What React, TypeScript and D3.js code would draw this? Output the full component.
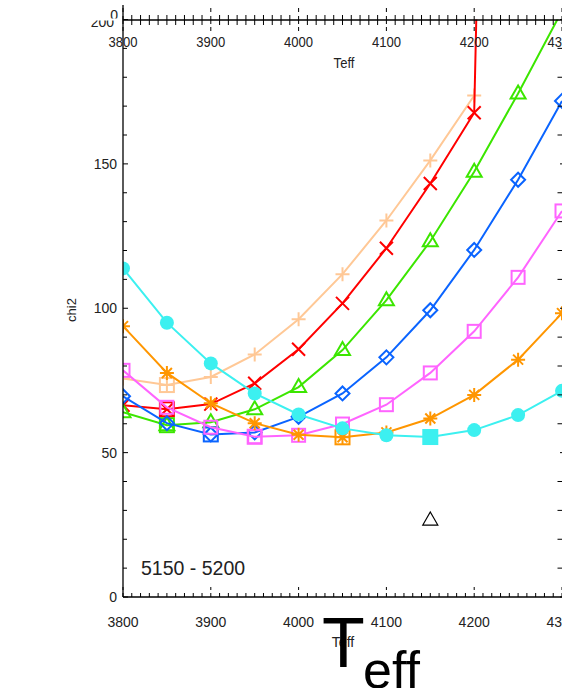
import React from "react";
import * as d3 from "d3";

// Effective temperature grid (K)
const teff = [3800, 3850, 3900, 3950, 4000, 4050, 4100, 4150, 4200, 4250, 4300];

// chi2 curves, one per fitted model, sampled on the teff grid
const chiPeach = [75.7, 73.4, 76.2, 84.0, 96.2, 111.8, 130.4, 151.2, 173.7];
const chiRed = [66.4, 65.0, 66.8, 74.0, 85.8, 101.7, 120.8, 143.2, 167.7, 850];
const chiGreen = [64.0, 59.5, 60.5, 65.0, 72.7, 85.5, 102.8, 123.2, 147.3, 174.4, 203];
const chiBlue = [69.5, 60.2, 56.3, 57.0, 62.4, 70.5, 83.0, 99.3, 120.2, 144.5, 171.8];
const chiPink = [78.5, 65.7, 58.8, 55.5, 56.0, 59.9, 66.6, 77.6, 92.0, 110.7, 133.7];
const chiOrange = [93.8, 77.6, 67.1, 60.2, 56.2, 55.3, 57.0, 61.8, 70.0, 82.2, 98.3];
const chiCyan = [113.8, 95.0, 80.9, 70.5, 63.2, 58.4, 56.0, 55.4, 57.8, 63.0, 71.4];

// Single reference point
const refTeff = [4150];
const refChi = [27];

const xTickValues = [3800, 3900, 4000, 4100, 4200, 4300];
const yTickValues = [0, 50, 100, 150, 200];
const rangeLabel = "5150 - 5200";

type Shape = "plus" | "cross" | "triangle" | "diamond" | "square" | "asterisk" | "circle";

const seriesList: { values: number[]; color: string; shape: Shape }[] = [
  { values: chiPeach, color: "#FFC896", shape: "plus" },
  { values: chiRed, color: "#FF0000", shape: "cross" },
  { values: chiGreen, color: "#3CE600", shape: "triangle" },
  { values: chiBlue, color: "#0A64FF", shape: "diamond" },
  { values: chiPink, color: "#FF64FF", shape: "square" },
  { values: chiOrange, color: "#FF9600", shape: "asterisk" },
  { values: chiCyan, color: "#3CF0F0", shape: "circle" },
];

const W = 562;
const H = 688;
const left = 123;
const right = 562;
const top = 19.5;
const bottom = 597;

const x = d3.scaleLinear().domain([3800, 4300]).range([left, right]);
const y = d3.scaleLinear().domain([0, 200]).range([bottom, top]);

const FONT = "'Liberation Sans', Arial, Helvetica, sans-serif";

function Marker({ shape, cx, cy, color }: { shape: Shape; cx: number; cy: number; color: string }) {
  const sw = 2;
  switch (shape) {
    case "plus":
      return <path d={`M${cx - 7},${cy}H${cx + 7}M${cx},${cy - 7}V${cy + 7}`} stroke={color} strokeWidth={sw} fill="none" />;
    case "cross":
      return (
        <path
          d={`M${cx - 6.5},${cy - 6.5}L${cx + 6.5},${cy + 6.5}M${cx - 6.5},${cy + 6.5}L${cx + 6.5},${cy - 6.5}`}
          stroke={color}
          strokeWidth={sw}
          fill="none"
        />
      );
    case "triangle":
      return <path d={`M${cx},${cy - 8}L${cx + 7.5},${cy + 5}L${cx - 7.5},${cy + 5}Z`} stroke={color} strokeWidth={sw} fill="none" />;
    case "diamond":
      return <path d={`M${cx},${cy - 7}L${cx + 7},${cy}L${cx},${cy + 7}L${cx - 7},${cy}Z`} stroke={color} strokeWidth={sw} fill="none" />;
    case "square":
      return <rect x={cx - 6.5} y={cy - 6.5} width={13} height={13} stroke={color} strokeWidth={sw} fill="none" />;
    case "asterisk":
      return (
        <path
          d={`M${cx - 7},${cy}H${cx + 7}M${cx},${cy - 7}V${cy + 7}M${cx - 5},${cy - 5}L${cx + 5},${cy + 5}M${cx - 5},${cy + 5}L${cx + 5},${cy - 5}`}
          stroke={color}
          strokeWidth={sw}
          fill="none"
        />
      );
    case "circle":
      return <circle cx={cx} cy={cy} r={7} fill={color} />;
  }
}

export default function App() {
  const minorX = d3.range(3800, 4301, 10);
  const minorY = d3.range(0, 201, 10);

  return (
    <svg
      width={W}
      height={H}
      viewBox={`0 0 ${W} ${H}`}
      style={{ position: "absolute", left: 0, top: 0, background: "#fff" }}
      fontFamily={FONT}
    >
      <defs>
        <clipPath id="plotArea">
          <rect x={left} y={top} width={right - left + 10} height={bottom - top} />
        </clipPath>
        <clipPath id="upperPanel">
          <rect x={0} y={0} width={W} height={18.5} />
        </clipPath>
        <clipPath id="lowerPanel">
          <rect x={0} y={20.5} width={W} height={H} />
        </clipPath>
      </defs>
      <rect width={W} height={H} fill="#fff" />

      {/* curves and markers */}
      <g clipPath="url(#plotArea)">
        {seriesList.map((s, si) => {
          const line = d3
            .line<number>()
            .x((_, i) => x(teff[i]))
            .y((d) => y(d));
          const minIdx = d3.minIndex(s.values);
          return (
            <g key={si}>
              <path d={line(s.values) ?? ""} fill="none" stroke={s.color} strokeWidth={2} />
              {s.values.map((v, i) => (
                <g key={i}>
                  {!(s.shape === "circle" && i === minIdx) && (
                    <Marker shape={s.shape} cx={x(teff[i])} cy={y(v)} color={s.color} />
                  )}
                  {i === minIdx && (
                    <rect
                      x={x(teff[i]) - 7}
                      y={y(v) - 7}
                      width={14}
                      height={14}
                      stroke={s.color}
                      strokeWidth={2}
                      fill={s.shape === "circle" ? s.color : "none"}
                    />
                  )}
                </g>
              ))}
            </g>
          );
        })}
        {refTeff.map((t, i) => (
          <path
            key={i}
            d={`M${x(t)},${y(refChi[i]) - 7}L${x(t) + 7.5},${y(refChi[i]) + 6}L${x(t) - 7.5},${y(refChi[i]) + 6}Z`}
            fill="none"
            stroke="#000"
            strokeWidth={1.2}
          />
        ))}
      </g>

      {/* axes lines */}
      <g stroke="#000" strokeWidth={1.3} fill="none">
        <line x1={left} y1={5} x2={left} y2={bottom} />
        <line x1={left} y1={bottom} x2={W} y2={bottom} />
        <line x1={left} y1={20} x2={W} y2={20} />
      </g>

      {/* x ticks: bottom and top */}
      <g stroke="#000" strokeWidth={1}>
        {minorX.map((t) => {
          const major = t % 100 === 0;
          const px = x(t);
          return (
            <g key={t}>
              {major ? (
                <>
                  <line x1={px} y1={587} x2={px} y2={590} />
                  <line x1={px} y1={593} x2={px} y2={bottom} />
                  <line x1={px} y1={8} x2={px} y2={12} />
                  <line x1={px} y1={16} x2={px} y2={24} />
                  <line x1={px} y1={27} x2={px} y2={31} />
                </>
              ) : (
                <>
                  <line x1={px} y1={593} x2={px} y2={bottom} />
                  <line x1={px} y1={15} x2={px} y2={25} />
                </>
              )}
            </g>
          );
        })}
      </g>

      {/* y ticks: left and right */}
      <g stroke="#000" strokeWidth={1}>
        {minorY.map((v) => {
          const major = v % 50 === 0;
          const py = y(v);
          return (
            <g key={v}>
              <line x1={left} y1={py} x2={left + (major ? 5 : 4)} y2={py} />
              {major ? (
                <line x1={W - 2} y1={py} x2={W} y2={py} />
              ) : (
                <line x1={W - 4.5} y1={py} x2={W} y2={py} />
              )}
            </g>
          );
        })}
      </g>

      {/* bottom x tick labels */}
      <g fontSize={14} fill="#222" textAnchor="middle">
        {xTickValues.map((t) => (
          <text key={t} x={x(t)} y={627}>
            {t}
          </text>
        ))}
      </g>

      {/* top x tick labels (horizontally condensed) */}
      <g fontSize={15} fill="#222" textAnchor="middle">
        {xTickValues.map((t) => (
          <text key={t} transform={`translate(${x(t)},47) scale(0.87,1)`}>
            {t}
          </text>
        ))}
      </g>
      <text transform="translate(344,68) scale(0.87,1)" fontSize={15} textAnchor="middle" fill="#222">
        Teff
      </text>

      {/* y tick labels */}
      <g fontSize={14} fill="#222" textAnchor="end">
        {yTickValues
          .filter((v) => v < 200)
          .map((v) => (
            <text key={v} x={117} y={y(v) + 5}>
              {v}
            </text>
          ))}
        <text x={114} y={27} clipPath="url(#lowerPanel)">
          {yTickValues[yTickValues.length - 1]}
        </text>
        <text x={118} y={20} clipPath="url(#upperPanel)">
          {yTickValues[0]}
        </text>
      </g>

      {/* axis titles */}
      <text transform="translate(76,310) rotate(-90)" fontSize={13} textAnchor="middle" fill="#222">
        chi2
      </text>
      <text x={343} y={647} fontSize={14} textAnchor="middle" fill="#222">
        Teff
      </text>

      <text x={141} y={575} fontSize={19.5} fill="#222">
        {rangeLabel}
      </text>

      {/* large subscripted axis title */}
      <text x={322} y={667} fontSize={70} fill="#000">
        T
      </text>
      <text x={363} y={688} fontSize={52} fill="#000">
        eff
      </text>
    </svg>
  );
}
